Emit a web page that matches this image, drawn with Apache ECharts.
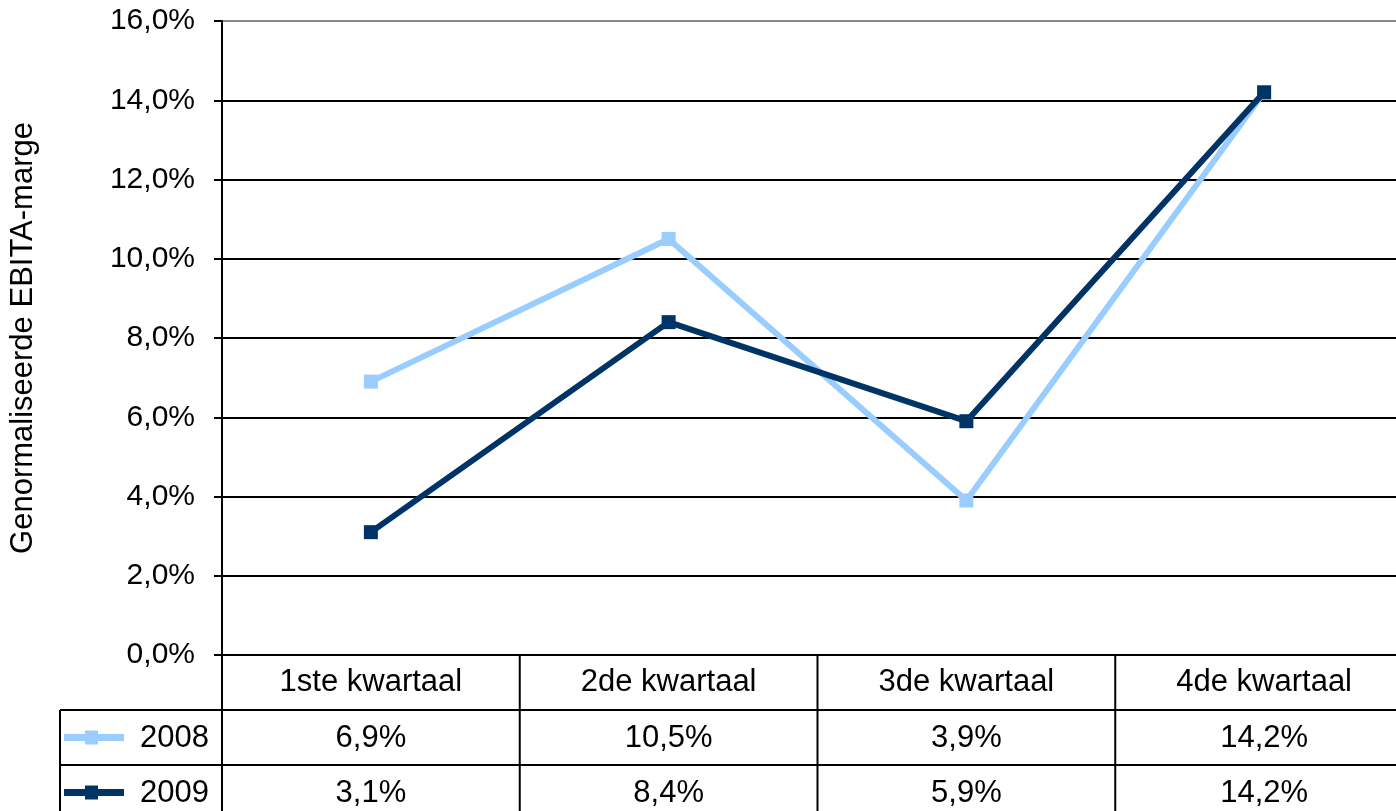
<!DOCTYPE html>
<html>
<head>
<meta charset="utf-8">
<script src="https://cdn.jsdelivr.net/npm/echarts@6/dist/echarts.min.js"></script>
<style>
  html, body { margin: 0; padding: 0; background: #fff; overflow: hidden; }
  #chart { width: 1413px; height: 811px; }
</style>
</head>
<body>
<div id="chart"></div>
<script>
const categories = ['1ste kwartaal', '2de kwartaal', '3de kwartaal', '4de kwartaal'];
const seriesNames = ['2008', '2009'];
const values2008 = [6.9, 10.5, 3.9, 14.2];
const values2009 = [3.1, 8.4, 5.9, 14.2];
const colors = ['#99CCFF', '#003366'];

const FONT = 'Liberation Sans, Arial, sans-serif';
const fmt = v => v.toFixed(1).replace('.', ',') + '%';

const chart = echarts.init(document.getElementById('chart'));

const seriesData = [values2008, values2009].map((vals, i) => ({
  name: seriesNames[i],
  type: 'line',
  data: vals,
  symbol: 'rect',
  symbolSize: 14,
  lineStyle: { width: 6, color: colors[i] },
  itemStyle: { color: colors[i] },
  z: 3 + i
}));

const option = {
  animation: false,
  grid: { left: 219, top: 21, right: 0, bottom: 156 },
  xAxis: {
    type: 'category',
    data: categories,
    boundaryGap: true,
    axisLine: { lineStyle: { color: '#000', width: 2 } },
    axisTick: { show: false },
    axisLabel: { color: '#000', fontFamily: FONT, fontSize: 31, margin: 12 }
  },
  yAxis: {
    type: 'value',
    min: 0,
    max: 16,
    interval: 2,
    name: 'Genormaliseerde EBITA-marge',
    nameLocation: 'middle',
    nameGap: 183,
    nameTextStyle: { color: '#000', fontFamily: FONT, fontSize: 31 },
    axisLine: { show: true, lineStyle: { color: '#000', width: 2 } },
    axisTick: { show: true, length: 8, lineStyle: { color: '#000', width: 2 } },
    axisLabel: { formatter: fmt, color: '#000', fontFamily: FONT, fontSize: 30, margin: 27 },
    splitLine: {
      lineStyle: {
        color: ['#000', '#000', '#000', '#000', '#000', '#000', '#000', '#000', '#888'],
        width: 2
      }
    }
  },
  series: seriesData
};

chart.setOption(option);

// data table below the plot
function buildTable() {
  const p0 = chart.convertToPixel({ xAxisIndex: 0 }, 0);
  const p1 = chart.convertToPixel({ xAxisIndex: 0 }, 1);
  const band = p1 - p0;
  const axisY = chart.convertToPixel({ yAxisIndex: 0 }, 0);
  const rowH = 55;
  const legendLeft = 60;
  const plotLeft = p0 - band / 2;
  const bottom = 811 + 10;
  const right = plotLeft + band * categories.length;
  const stroke = { stroke: '#000', lineWidth: 2 };
  const els = [];

  // horizontal lines
  for (let r = 1; r <= 3; r++) {
    const y = axisY + rowH * r;
    els.push({ type: 'line', shape: { x1: legendLeft, y1: y, x2: right, y2: y }, style: stroke });
  }
  // vertical lines
  els.push({ type: 'line', shape: { x1: legendLeft, y1: axisY + rowH, x2: legendLeft, y2: bottom }, style: stroke });
  for (let c = 0; c <= categories.length; c++) {
    const x = plotLeft + band * c;
    els.push({ type: 'line', shape: { x1: x, y1: axisY, x2: x, y2: bottom }, style: stroke });
  }

  [values2008, values2009].forEach((vals, i) => {
    const cy = axisY + rowH * (i + 1) + rowH / 2;
    // legend key
    els.push({ type: 'line', shape: { x1: 64, y1: cy, x2: 124, y2: cy }, style: { stroke: colors[i], lineWidth: 7 } });
    els.push({ type: 'rect', shape: { x: 85, y: cy - 7, width: 13, height: 14 }, style: { fill: colors[i] } });
    els.push({
      type: 'text', x: plotLeft - 13, y: cy + 1,
      style: { text: seriesNames[i], fill: '#000', font: '31px ' + FONT, align: 'right', verticalAlign: 'middle' }
    });
    vals.forEach((v, j) => {
      const cx = chart.convertToPixel({ xAxisIndex: 0 }, j);
      els.push({
        type: 'text', x: cx, y: cy + 1,
        style: { text: fmt(v), fill: '#000', font: '31px ' + FONT, align: 'center', verticalAlign: 'middle' }
      });
    });
  });

  chart.setOption({ graphic: els });
}
buildTable();
</script>
</body>
</html>
